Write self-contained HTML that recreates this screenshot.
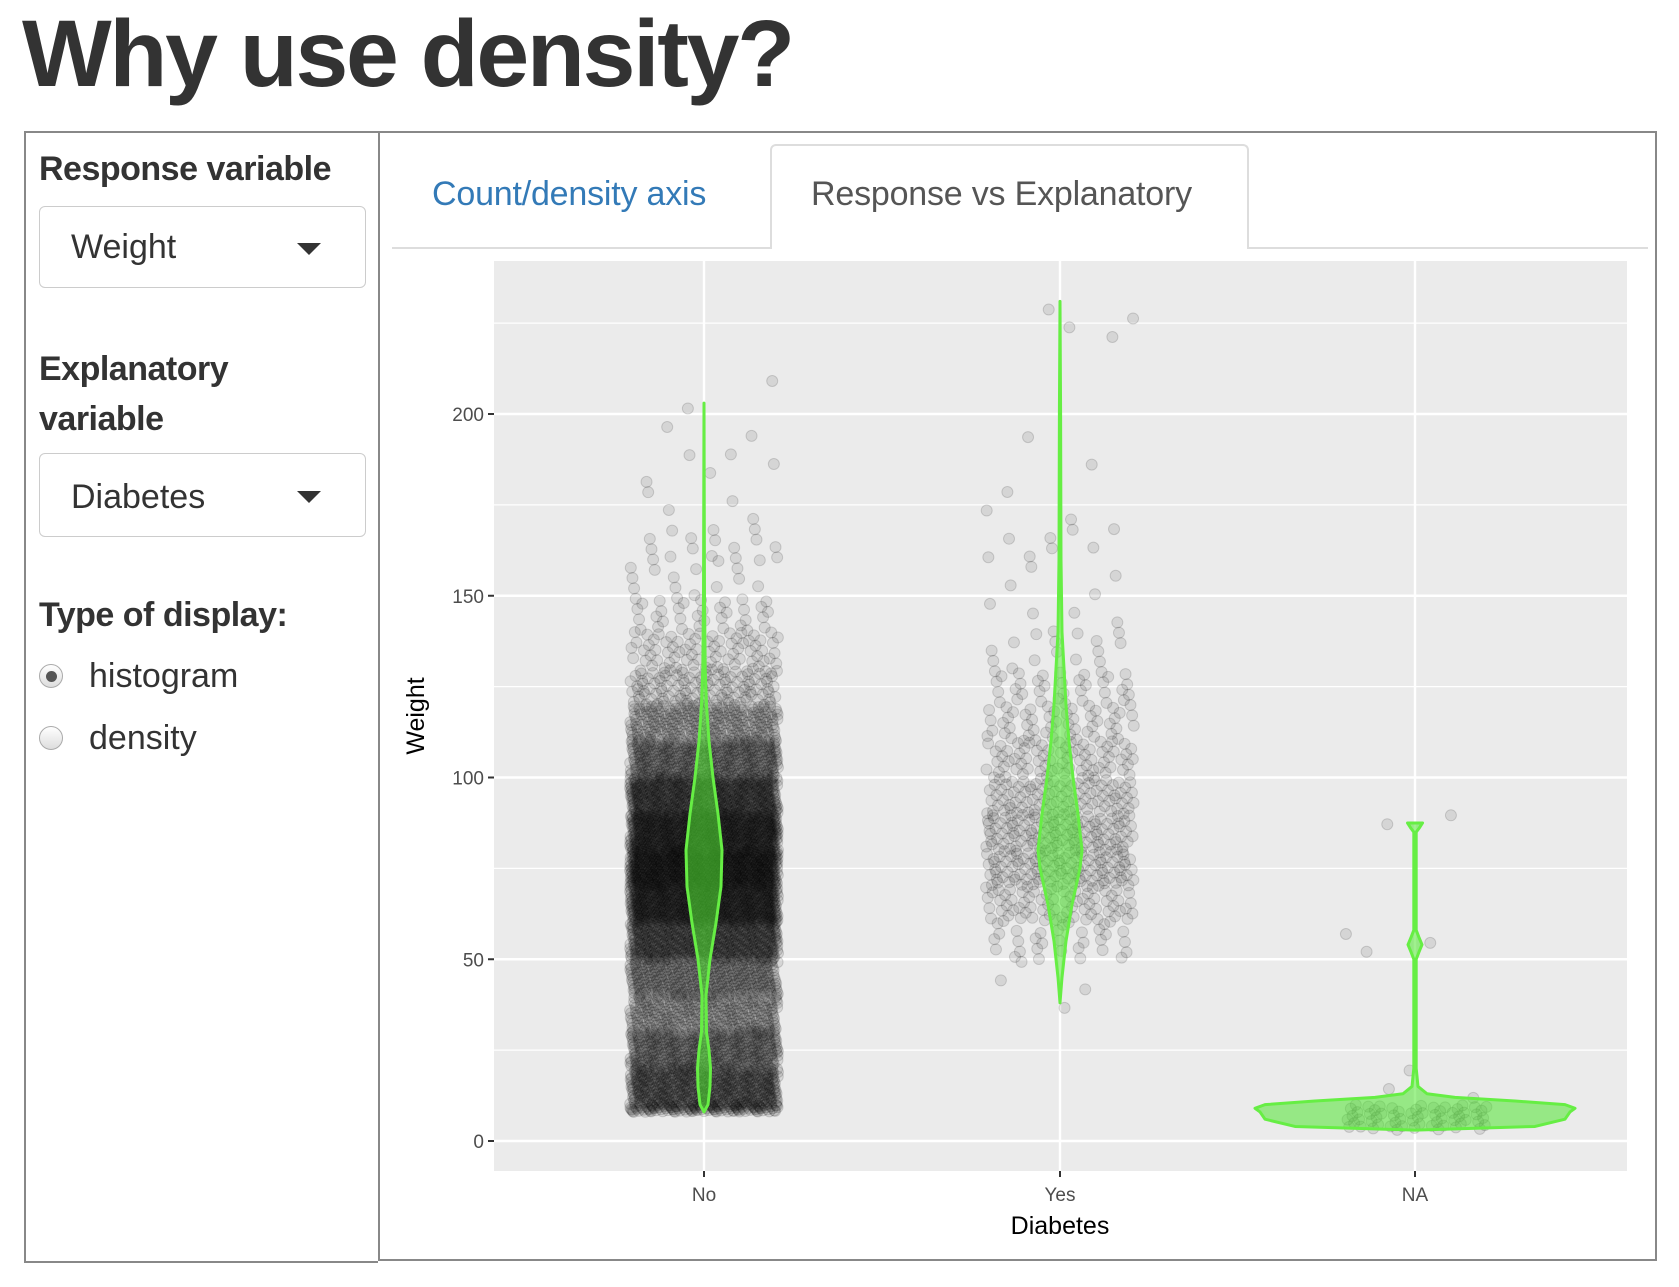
<!DOCTYPE html>
<html><head><meta charset="utf-8">
<style>
body{margin:0;width:1679px;height:1287px;background:#fff;font-family:"Liberation Sans",sans-serif;color:#333;position:relative;overflow:hidden}
.abs{position:absolute}
#title{left:22px;top:0px;font-size:95px;font-weight:bold;color:#333;letter-spacing:-2.3px}
#side{left:24px;top:131px;width:354px;height:1132px;border:2px solid #888;box-sizing:border-box;border-right:none}
#main{left:378px;top:131px;width:1279px;height:1130px;border:2px solid #888;box-sizing:border-box}
.lbl{font-weight:bold;font-size:34px;color:#333;letter-spacing:-0.5px}
.sel{left:39px;width:327px;border:1px solid #ccc;border-radius:6px;box-sizing:border-box;font-size:34px;color:#333}
.sel span{position:absolute;left:31px}
.caret{position:absolute;right:44px;width:0;height:0;border-left:12px solid transparent;border-right:12px solid transparent;border-top:12px solid #333}
.radio{width:24px;height:24px;border-radius:50%;border:1px solid #aaa;background:linear-gradient(#fff,#ddd);box-sizing:border-box}
.rt{font-size:34px;color:#333}
</style></head><body>
<div id="title" class="abs">Why use density?</div>
<div id="side" class="abs"></div>
<div class="abs lbl" style="left:39px;top:150px">Response variable</div>
<div class="abs sel" style="top:206px;height:82px"><span style="top:21px">Weight</span><div class="caret" style="top:36px"></div></div>
<div class="abs lbl" style="left:39px;top:344px;line-height:50px">Explanatory<br>variable</div>
<div class="abs sel" style="top:453px;height:84px"><span style="top:24px">Diabetes</span><div class="caret" style="top:37px"></div></div>
<div class="abs lbl" style="left:39px;top:596px">Type of display:</div>
<div class="abs radio" style="left:39px;top:664px"><div style="position:absolute;left:6px;top:6px;width:11px;height:11px;border-radius:50%;background:#555"></div></div>
<div class="abs rt" style="left:89px;top:657px">histogram</div>
<div class="abs radio" style="left:39px;top:726px"></div>
<div class="abs rt" style="left:89px;top:719px">density</div>
<div id="main" class="abs"></div>
<div class="abs" style="left:392px;top:247px;width:1256px;height:2px;background:#ddd"></div>
<div class="abs" style="left:770px;top:144px;width:479px;height:105px;border:2px solid #ddd;border-bottom:none;border-radius:6px 6px 0 0;background:#fff;box-sizing:border-box"></div>
<div class="abs" style="left:432px;top:175px;font-size:34px;color:#337ab7;letter-spacing:-0.2px">Count/density axis</div>
<div class="abs" style="left:811px;top:175px;font-size:34px;color:#555;letter-spacing:-0.2px">Response vs Explanatory</div>
<svg class="abs" style="left:0;top:0" width="1679" height="1287" id="chart"></svg>
<script>
const categories=["No","Yes","NA"];
const yTicks=[0,50,100,150,200];
const binStarts=[0,10,20,30,40,50,60,70,80,90,100,110,120,130,140,150,160,170,180,190,200,210,220];
const countsNo=[120,500,400,280,350,550,750,850,750,600,400,250,120,70,35,15,15,4,5,2,2,0,0];
const countsYes=[0,0,0,1,3,30,70,110,110,90,70,50,35,15,5,4,8,3,1,1,0,0,4];
const countsNA=[60,3,0,0,0,3,0,0,2,0,0,0,0,0,0,0,0,0,0,0,0,0,0];
const violinYNo=[8,10,15,20,25,30,40,50,60,70,80,90,100,110,120,130,150,170,203];
const violinDNo=[0,0.004,0.006,0.0065,0.005,0.0025,0.002,0.006,0.012,0.017,0.018,0.014,0.009,0.005,0.0025,0.0012,0.0005,0.0003,0];
const violinYYes=[38,45,55,65,75,80,90,100,110,120,130,140,160,200,231];
const violinDYes=[0,0.002,0.006,0.012,0.02,0.022,0.018,0.013,0.009,0.006,0.004,0.002,0.001,0.0006,0];
const violinYNA=[3,4,6,8,9,10,11,12,13,15,20,50,52,54,56,58,85,86,87.5];
const violinDNA=[0,0.12,0.15,0.155,0.16,0.15,0.1,0.04,0.012,0.003,0.0012,0.0012,0.004,0.007,0.004,0.0012,0.0012,0.004,0.0075];

const NS="http://www.w3.org/2000/svg";
const svg=document.getElementById('chart');
const P={l:494,r:1627,t:261,b:1171};
const yS=v=>1141-v*3.635;
const xS=i=>[704,1060,1415][i];
const wS=d=>d*1000;
function mk(tag,at,parent){const e=document.createElementNS(NS,tag);for(const k in at)e.setAttribute(k,at[k]);(parent||svg).appendChild(e);return e;}
const bg=mk('rect',{x:P.l,y:P.t,width:P.r-P.l,height:P.b-P.t,fill:'#ebebeb'});


for(let v=25;v<250;v+=50){if(yS(v)>P.t){const g=mk('line',{x1:P.l,x2:P.r,y1:yS(v),y2:yS(v),stroke:'#fff','stroke-width':1.2});

}}
yTicks.forEach(v=>{const g=mk('line',{x1:P.l,x2:P.r,y1:yS(v),y2:yS(v),stroke:'#fff','stroke-width':2.4});


mk('line',{x1:P.l-6,x2:P.l,y1:yS(v),y2:yS(v),stroke:'#333','stroke-width':2});
const t=mk('text',{x:P.l-10,y:yS(v)+7,'text-anchor':'end','font-size':19,fill:'#4d4d4d','font-family':'Liberation Sans'});t.textContent=v;

});
categories.forEach((c,i)=>{const g=mk('line',{x1:xS(i),x2:xS(i),y1:P.t,y2:P.b,stroke:'#fff','stroke-width':2.4});


mk('line',{x1:xS(i),x2:xS(i),y1:P.b,y2:P.b+6,stroke:'#333','stroke-width':2});
const t=mk('text',{x:xS(i),y:P.b+30,'text-anchor':'middle','font-size':19,fill:'#4d4d4d','font-family':'Liberation Sans'});t.textContent=c;

});
const xt=mk('text',{x:1060,y:1234,'text-anchor':'middle','font-size':25,fill:'#000','font-family':'Liberation Sans'});xt.textContent='Diabetes';


const yt=mk('text',{x:0,y:0,'text-anchor':'middle','font-size':25,fill:'#000','font-family':'Liberation Sans',transform:'translate(424,716) rotate(-90)'});yt.textContent='Weight';


// points
const countsAll=[countsNo,countsYes,countsNA];
const ptsG=mk('g',{});


const a1=0.7548776662,a2=0.5698402910;let k=0;
countsAll.forEach((counts,ci)=>{counts.forEach((n,bi)=>{for(let j=0;j<n;j++){k++;
 let fy=((k*a1+0.31)%1);
 let lo=binStarts[bi],span=10;
 if(bi==0){lo=(ci==2?3:8);span=10-lo;}
 const v=lo+span*fy;
 const fx=((k*a2+0.17)%1)*2-1;
 const c=mk('circle',{cx:xS(ci)+fx*74,cy:yS(v),r:5.5,fill:'rgba(0,0,0,0.09)',stroke:'rgba(0,0,0,0.14)','stroke-width':1},ptsG);
 
 }});});
// violins
[[violinYNo,violinDNo],[violinYYes,violinDYes],[violinYNA,violinDNA]].forEach(([ys,ds],i)=>{
 let d='M'+xS(i)+','+yS(ys[0]);
 for(let j=0;j<ys.length;j++)d+=' L'+(xS(i)+wS(ds[j]))+','+yS(ys[j]);
 for(let j=ys.length-1;j>=0;j--)d+=' L'+(xS(i)-wS(ds[j]))+','+yS(ys[j]);
 d+='Z';
 const p=mk('path',{d:d,fill:'rgba(80,230,50,0.55)',stroke:'#66ee44','stroke-width':3,'stroke-linejoin':'round'});
 
 
});
</script>
</body></html>
